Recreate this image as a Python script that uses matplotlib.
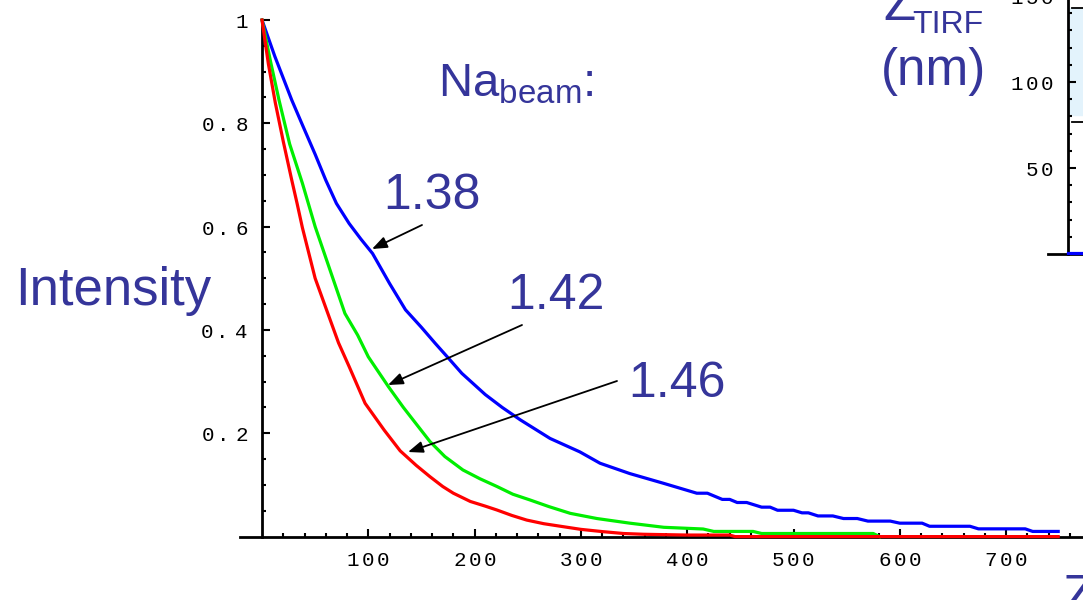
import matplotlib
matplotlib.use("Agg")
import matplotlib.pyplot as plt
import numpy as np

# ---------------- data ----------------
z_blue = [0, 12, 28, 38, 50, 60, 70, 82, 93, 104, 120, 135, 150, 163, 176, 188, 210, 226, 243, 271,
          299, 318, 346, 378, 409, 419, 433, 440, 447, 456, 470, 478, 485, 500, 508, 514, 523, 537, 547, 560,
          570, 591, 600, 621, 628, 666, 674, 718, 725, 749]
i_blue = [1, 0.93, 0.845, 0.797, 0.74, 0.69, 0.645, 0.606, 0.576, 0.548, 0.49, 0.439, 0.405, 0.374, 0.344,
          0.316, 0.275, 0.25, 0.226, 0.19, 0.164, 0.142, 0.122, 0.103, 0.084, 0.084, 0.072, 0.072, 0.066, 0.066,
          0.057, 0.057, 0.051, 0.051, 0.046, 0.046, 0.040, 0.040, 0.035, 0.035, 0.030, 0.030, 0.026, 0.026,
          0.020, 0.020, 0.015, 0.015, 0.010, 0.010]

z_green = [0, 8, 16, 26, 38, 50, 63, 78, 90, 100, 119, 133, 147, 158, 172, 189, 205, 221, 236, 252,
           270, 290, 315, 346, 378, 415, 425, 462, 470, 575, 581]
i_green = [1, 0.92, 0.845, 0.76, 0.684, 0.60, 0.522, 0.432, 0.39, 0.348, 0.29, 0.25, 0.213, 0.184, 0.155,
           0.129, 0.112, 0.097, 0.082, 0.071, 0.058, 0.045, 0.035, 0.026, 0.018, 0.0147, 0.01, 0.01, 0.006,
           0.006, 0]

z_red = [0, 6, 12.5, 20, 28, 33, 38, 50, 63, 72, 82, 97, 115, 130, 145, 158, 170, 180, 196, 210,
         221, 235, 249, 265, 284, 300, 321, 340, 359, 400, 440, 445, 749]
i_red = [1, 0.915, 0.84, 0.765, 0.69, 0.645, 0.598, 0.50, 0.426, 0.375, 0.329, 0.258, 0.206, 0.166, 0.138,
         0.116, 0.097, 0.084, 0.068, 0.059, 0.0515, 0.041, 0.032, 0.025, 0.019, 0.014, 0.0095, 0.006, 0.0045,
         0.003, 0.003, 0, 0]

na_labels = ["1.38", "1.42", "1.46"]
x_ticks = [100, 200, 300, 400, 500, 600, 700]
y_ticks = [0.2, 0.4, 0.6, 0.8, 1.0]
y_tick_labels = ["0.2", "0.4", "0.6", "0.8", "1"]
inset_ticks = [50, 100, 150]

TXT = "#35359a"
plt.rcParams['mathtext.fontset'] = 'custom'
plt.rcParams['mathtext.rm'] = 'Liberation Sans'
plt.rcParams['mathtext.it'] = 'Liberation Sans:italic'
plt.rcParams['mathtext.tt'] = 'Liberation Mono'


def spaced(s):
    # monospace tick label with slight letter spacing, as in the reference
    return "$" + r"\,".join(r"\mathtt{%s}" % c for c in s) + "$"


W, H = 1083, 600
fig = plt.figure(figsize=(W / 100, H / 100), dpi=100)
ax = fig.add_axes([0, 0, 1, 1])
ax.patch.set_alpha(0)

# pixel mapping: z=0 at px 262, 1.063 px per nm; I=0 at px 536.6, 516.6 px per unit
x0, sx = 262.0, 1.063
y0, sy = 536.6, 516.6
ax.set_xlim((0 - x0) / sx, (W - x0) / sx)
ax.set_ylim((y0 - H) / sy, (y0 - 0) / sy)

lw = 2.3
ax.plot(z_blue, i_blue, color="#0000ff", lw=lw, zorder=3, solid_joinstyle='round')
ax.plot(z_green, i_green, color="#00ee00", lw=lw, zorder=3, solid_joinstyle='round')
ax.plot(z_red, i_red, color="#ff0000", lw=lw, zorder=4, solid_joinstyle='round')

for s in ['top', 'right']:
    ax.spines[s].set_visible(False)
ax.spines['left'].set_position(('data', 0))
ax.spines['bottom'].set_position(('data', 0))
ax.spines['left'].set_bounds(0, 1)
ax.spines['bottom'].set_bounds((240 - x0) / sx, (W - x0) / sx)
for s in ['left', 'bottom']:
    ax.spines[s].set_linewidth(2)
    ax.spines[s].set_zorder(2)

ax.set_xticks(x_ticks)
ax.set_xticklabels([spaced(str(t)) for t in x_ticks])
ax.set_xticks(np.arange(20, 770, 20), minor=True)
ax.set_yticks(y_ticks)
ax.set_yticklabels([spaced(t) for t in y_tick_labels])
ax.set_yticks(np.arange(0.05, 1.0, 0.05), minor=True)
ax.tick_params(which='both', direction='in', width=1.5, colors='black')
ax.tick_params(which='major', length=5.5)
ax.tick_params(which='minor', length=3)
ax.tick_params(axis='x', which='major', pad=10, labelsize=15)
ax.tick_params(axis='y', which='major', pad=10, labelsize=15)

# ---------- labels ----------
def d(px, py):
    return ((px - x0) / sx, (y0 - py) / sy)

ax.text(*d(15, 305), "Intensity", fontsize=38, color=TXT, family='Liberation Sans',
        ha='left', va='baseline')
ax.text(*d(438, 97), r"Na$_{\mathrm{beam}}$:", fontsize=34, color=TXT, family='Liberation Sans',
        ha='left', va='baseline')

label_pos = [d(432, 209), d(556, 309), d(677, 397)]
arrow_from = [d(422, 225), d(522, 325), d(617, 381)]
arrow_to = [d(372, 249), d(388, 385), d(408, 452)]
for lab, lp, af, at in zip(na_labels, label_pos, arrow_from, arrow_to):
    ax.text(lp[0], lp[1], lab, fontsize=36, color=TXT, family='Liberation Sans',
            ha='center', va='baseline')
    ax.annotate("", xy=at, xytext=af,
                arrowprops=dict(arrowstyle='-|>,head_length=0.9,head_width=0.35',
                                color='black', lw=1.3, shrinkA=0, shrinkB=0))

# cut-off "Z" at bottom right
fig.text(1062 / W, (H - 612) / H, "Z", fontsize=38, color=TXT, family='Liberation Sans',
         ha='left', va='baseline')

# ---------- inset (cut off at top right) ----------
ih = 300
axi = fig.add_axes([1068 / W, (H - 254) / H, 0.2, ih / H])
axi.patch.set_alpha(0)
axi.set_xlim(0, 100)
axi.set_ylim(0, ih * 50 / 86)
for s in ['top', 'right', 'bottom']:
    axi.spines[s].set_visible(False)
axi.spines['left'].set_linewidth(2)
axi.axhspan(81, 143, color='#e3f3fc', zorder=0)
xscale = 0.2 * W / 100
axi.plot([-20 / xscale, 100], [0, 0], color='black', lw=2, clip_on=False, zorder=2)
axi.plot([0, 100], [0.5, 0.5], color='#0000ff', lw=2.3, clip_on=False, zorder=3)
axi.plot([2, 8], [143, 143], color='black', lw=1.3, zorder=3)
axi.plot([2, 8], [77, 77], color='black', lw=1.3, zorder=3)
axi.set_xticks([])
axi.set_yticks(inset_ticks)
axi.set_yticklabels([spaced(str(t)) for t in inset_ticks])
axi.set_yticks(np.arange(10, 170, 10), minor=True)
axi.tick_params(which='both', direction='in', width=1.5)
axi.tick_params(which='major', length=5.5, pad=10, labelsize=15)
axi.tick_params(which='minor', length=3)

fig.text(883 / W, (H - 20) / H, "Z", fontsize=38, color=TXT, family='Liberation Sans',
         ha='left', va='baseline')
fig.text(912 / W, (H - 33) / H, "TIRF", fontsize=23, color=TXT, family='Liberation Sans',
         ha='left', va='baseline')
fig.text(881 / W, (H - 85) / H, "(nm)", fontsize=37, color=TXT, family='Liberation Sans',
         ha='left', va='baseline')

fig.savefig("out.png", dpi=100)
